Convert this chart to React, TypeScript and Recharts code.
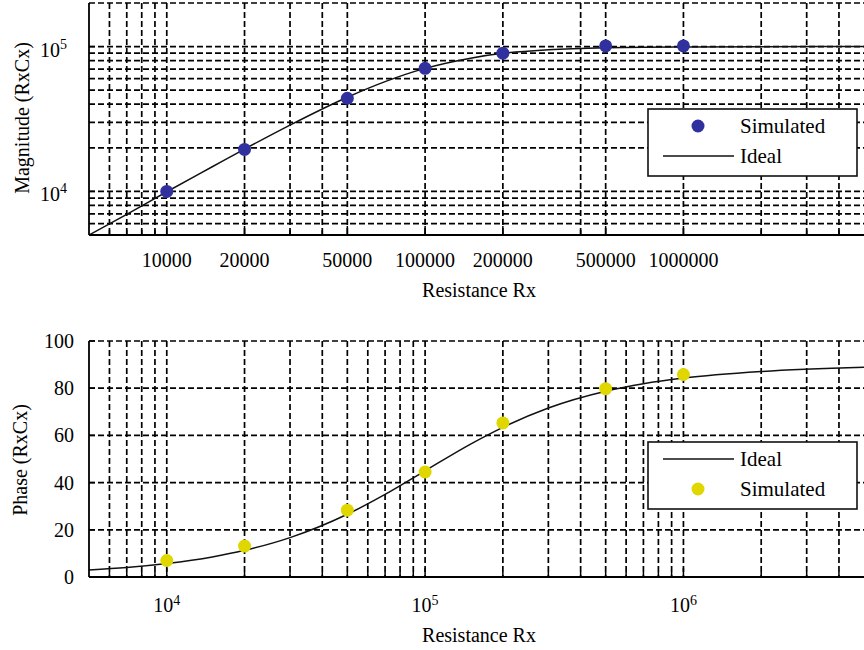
import React from 'react';
import { ComposedChart, Line, Scatter, XAxis, YAxis, CartesianGrid } from 'recharts';

// ideal response
const idealRx = [5000, 7000, 10000, 15000, 20000, 30000, 50000, 70000, 100000, 150000, 200000, 300000, 500000, 700000, 1000000, 2000000, 5000000];
const idealMagnitude = [5000, 6950, 9950, 14800, 19600, 28700, 44700, 57300, 70700, 83200, 89800, 95000, 98200, 99100, 99500, 99900, 100000];
const idealPhase = [3.0, 4.0, 5.7, 8.5, 11.3, 16.7, 26.6, 35.0, 45.0, 56.3, 63.4, 71.6, 78.7, 81.9, 84.3, 87.1, 88.9];

// simulated points
const simRx = [10000, 20000, 50000, 100000, 200000, 500000, 1000000];
const simMagnitude = [10000, 19500, 44000, 70800, 90000, 101000, 101000];
const simPhase = [7.0, 13.1, 28.3, 44.5, 65.3, 79.8, 85.8];

// axes
const topXLabels = [10000, 20000, 50000, 100000, 200000, 500000, 1000000];
const topXGrid = [6000, 7000, 8000, 9000, 10000, 20000, 30000, 40000, 50000, 100000, 200000, 400000, 500000, 1000000, 2000000, 3000000, 4000000];
const topYGrid = [6000, 7000, 8000, 9000, 10000, 20000, 30000, 40000, 50000, 60000, 70000, 80000, 90000, 100000, 200000];
const topYLabels = [10000, 100000];
const bottomXGrid = [
  6000, 7000, 8000, 9000,
  10000, 20000, 30000, 40000, 50000, 60000, 70000, 80000, 90000,
  100000, 200000, 300000, 400000, 500000, 600000, 700000, 800000, 900000,
  1000000, 2000000, 3000000, 4000000,
];
const bottomXLabels = [10000, 100000, 1000000];
const bottomYTicks = [0, 20, 40, 60, 80, 100];
const bottomYGrid = [20, 40, 60, 80, 100];

const FONT = '"Liberation Serif", "Times New Roman", serif';
const BLUE = '#30309e';
const YELLOW = '#e0d600';
const GRID = '#000';

const magnitudeLine = idealRx.map((x, i) => ({ x, y: idealMagnitude[i] }));
const phaseLine = idealRx.map((x, i) => ({ x, y: idealPhase[i] }));
const magnitudePoints = simRx.map((x, i) => ({ x, y: simMagnitude[i] }));
const phasePoints = simRx.map((x, i) => ({ x, y: simPhase[i] }));

const TopXTick = (props: any) => {
  const { x, y, payload } = props;
  const major = topXLabels.includes(payload.value);
  return (
    <g>
      <line x1={x} y1={y} x2={x} y2={y - (major ? 9 : 5)} stroke="#000" strokeWidth={1.5} />
      {major && (
        <text x={x} y={y + 32} textAnchor="middle" fontFamily={FONT} fontSize={20} fill="#000">
          {payload.value}
        </text>
      )}
    </g>
  );
};

const BottomXTick = (props: any) => {
  const { x, y, payload } = props;
  const major = bottomXLabels.includes(payload.value);
  return (
    <g>
      <line x1={x} y1={y} x2={x} y2={y - (major ? 9 : 5)} stroke="#000" strokeWidth={1.5} />
      {major && (
        <text x={x} y={y + 35} textAnchor="middle" fontFamily={FONT} fontSize={20} fill="#000">
          <tspan>10</tspan>
          <tspan dy={-7} fontSize={14}>{Math.round(Math.log10(payload.value))}</tspan>
        </text>
      )}
    </g>
  );
};

const TopYTick = (props: any) => {
  const { x, y, payload } = props;
  return (
    <g>
      <line x1={x} y1={y} x2={x + 6} y2={y} stroke="#000" strokeWidth={1.5} />
      <text x={x - 22} y={y + 10} textAnchor="end" fontFamily={FONT} fontSize={20} fill="#000">
        <tspan>10</tspan>
        <tspan dy={-8} fontSize={14}>{Math.round(Math.log10(payload.value))}</tspan>
      </text>
    </g>
  );
};

const BottomYTick = (props: any) => {
  const { x, y, payload } = props;
  return (
    <g>
      <line x1={x} y1={y} x2={x + 6} y2={y} stroke="#000" strokeWidth={1.5} />
      <text x={x - 15} y={y + 7} textAnchor="end" fontFamily={FONT} fontSize={20} fill="#000">
        {payload.value}
      </text>
    </g>
  );
};

const Title = (props: any) => {
  const { px, py, text, vertical } = props;
  return (
    <text
      x={px}
      y={py}
      textAnchor="middle"
      fontFamily={FONT}
      fontSize={20}
      fill="#000"
      transform={vertical ? `rotate(-90 ${px} ${py})` : undefined}
    >
      {text}
    </text>
  );
};

const marker = (color: string) => (p: any) =>
  p.cx == null ? <g /> : <circle cx={p.cx} cy={p.cy} r={6.5} fill={color} />;

const axisLine = { stroke: '#000', strokeWidth: 1.8 };

const LegendBox = ({ top, items }: { top: number; items: { label: string; kind: 'dot' | 'line'; color: string }[] }) => (
  <svg style={{ position: 'absolute', left: 647, top }} width={212} height={70}>
    <rect x={1} y={1} width={209} height={67} fill="#fff" stroke="#111" strokeWidth={1.6} />
    {items.map((it, i) => {
      const cy = i === 0 ? 18 : 48;
      return (
        <g key={it.label}>
          {it.kind === 'dot' ? (
            <circle cx={51} cy={cy} r={6.5} fill={it.color} />
          ) : (
            <line x1={16} y1={cy} x2={87} y2={cy} stroke={it.color} strokeWidth={1.6} />
          )}
          <text x={93} y={cy + 7} fontFamily={FONT} fontSize={21} fill="#000">
            {it.label}
          </text>
        </g>
      );
    })}
  </svg>
);

export default function App() {
  return (
    <div style={{ position: 'absolute', left: 0, top: 0, width: 864, height: 650, background: '#fff', overflow: 'hidden' }}>
      <div style={{ position: 'absolute', left: 0, top: 0, width: 864, height: 320 }}>
        <ComposedChart width={864} height={320} margin={{ top: 3, right: 0, bottom: 0, left: 0 }}>
          <CartesianGrid
            stroke={GRID}
            strokeDasharray="6 3"
            strokeWidth={1.7}
            verticalValues={topXGrid}
            horizontalValues={topYGrid}
          />
          <XAxis
            type="number"
            dataKey="x"
            scale="log"
            domain={[5000, 5000000]}
            allowDataOverflow
            ticks={topXGrid}
            interval={0}
            tick={<TopXTick />}
            tickSize={0}
            tickMargin={0}
            tickLine={false}
            axisLine={axisLine}
            height={85}
            label={<Title px={479} py={297} text="Resistance Rx" />}
          />
          <YAxis
            type="number"
            dataKey="y"
            scale="log"
            domain={[5000, 200000]}
            allowDataOverflow
            ticks={topYLabels}
            interval={0}
            tick={<TopYTick />}
            tickSize={0}
            tickMargin={0}
            tickLine={false}
            axisLine={axisLine}
            width={89}
            label={<Title px={29} py={118} text="Magnitude (RxCx)" vertical />}
          />
          <Line
            data={magnitudeLine}
            dataKey="y"
            type="monotone"
            stroke="#111"
            strokeWidth={1.5}
            dot={false}
            activeDot={false}
            isAnimationActive={false}
          />
          <Scatter data={magnitudePoints} dataKey="y" fill={BLUE} shape={marker(BLUE)} isAnimationActive={false} />
        </ComposedChart>
        <LegendBox
          top={108}
          items={[
            { label: 'Simulated', kind: 'dot', color: BLUE },
            { label: 'Ideal', kind: 'line', color: '#111' },
          ]}
        />
      </div>

      <div style={{ position: 'absolute', left: 0, top: 320, width: 864, height: 330 }}>
        <ComposedChart width={864} height={330} margin={{ top: 21, right: 0, bottom: 0, left: 0 }}>
          <CartesianGrid
            stroke={GRID}
            strokeDasharray="6 3"
            strokeWidth={1.7}
            verticalValues={bottomXGrid}
            horizontalValues={bottomYGrid}
          />
          <XAxis
            type="number"
            dataKey="x"
            scale="log"
            domain={[5000, 5000000]}
            allowDataOverflow
            ticks={bottomXGrid}
            interval={0}
            tick={<BottomXTick />}
            tickSize={0}
            tickMargin={0}
            tickLine={false}
            axisLine={axisLine}
            height={73}
            label={<Title px={479} py={322} text="Resistance Rx" />}
          />
          <YAxis
            type="number"
            dataKey="y"
            domain={[0, 100]}
            allowDataOverflow
            ticks={bottomYTicks}
            interval={0}
            tick={<BottomYTick />}
            tickSize={0}
            tickMargin={0}
            tickLine={false}
            axisLine={axisLine}
            width={89}
            label={<Title px={27} py={140} text="Phase (RxCx)" vertical />}
          />
          <Line
            data={phaseLine}
            dataKey="y"
            type="monotone"
            stroke="#111"
            strokeWidth={1.5}
            dot={false}
            activeDot={false}
            isAnimationActive={false}
          />
          <Scatter data={phasePoints} dataKey="y" fill={YELLOW} shape={marker(YELLOW)} isAnimationActive={false} />
        </ComposedChart>
        <LegendBox
          top={121}
          items={[
            { label: 'Ideal', kind: 'line', color: '#111' },
            { label: 'Simulated', kind: 'dot', color: YELLOW },
          ]}
        />
      </div>
    </div>
  );
}
